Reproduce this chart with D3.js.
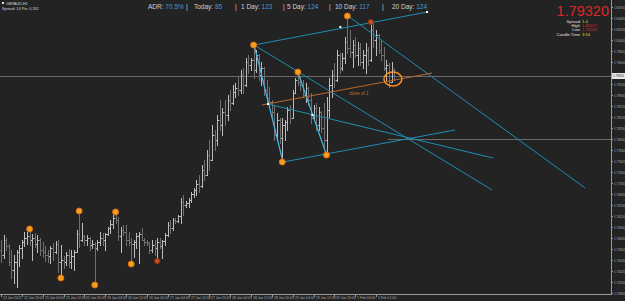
<!DOCTYPE html>
<html>
<head>
<meta charset="utf-8">
<script src="https://cdn.jsdelivr.net/npm/d3@7"></script>
<style>
html, body { margin: 0; padding: 0; background: #232323; }
svg { display: block; }
text { font-family: "Liberation Sans", Arial, sans-serif; }
</style>
</head>
<body>
<svg id="chart" width="625" height="301"></svg>
<script>
// GBPAUD H1 bars (open / high / low / close)
const opens = [1.7584,1.7574,1.7604,1.7592,1.7560,1.7544,1.7560,1.7580,1.7588,1.7600,1.7608,1.7612,1.7604,1.7608,1.7596,1.7604,1.7584,1.7580,1.7574,1.7572,
1.7588,1.7580,1.7596,1.7560,1.7564,1.7560,1.7574,1.7560,1.7572,1.7580,1.7616,1.7604,1.7612,1.7604,1.7608,1.7594,1.7596,1.7588,1.7600,1.7608,
1.7604,1.7616,1.7628,1.7636,1.7648,1.7644,1.7612,1.7624,1.7620,1.7604,1.7600,1.7596,1.7600,1.7612,1.7616,1.7604,1.7600,1.7598,1.7584,1.7594,
1.7588,1.7600,1.7592,1.7602,1.7614,1.7634,1.7628,1.7644,1.7642,1.7652,1.7680,1.7674,1.7678,1.7684,1.7696,1.7704,1.7716,1.7712,1.7744,1.7734,
1.7774,1.7764,1.7814,1.7804,1.7844,1.7834,1.7860,1.7854,1.7884,1.7878,1.7900,1.7908,1.7904,1.7934,1.7914,1.7960,1.7954,1.7964,1.7944,1.7974,
1.7934,1.7948,1.7904,1.7888,1.7880,1.7860,1.7814,1.7844,1.7808,1.7834,1.7840,1.7864,1.7848,1.7898,1.7924,1.7920,1.7914,1.7894,1.7908,1.7884,
1.7848,1.7868,1.7834,1.7860,1.7828,1.7804,1.7864,1.7914,1.7934,1.7924,1.7974,1.7948,1.7968,1.8000,1.7988,1.7980,1.7994,1.7974,1.7988,1.7960,
1.7974,1.7984,1.7964,1.8024,1.8004,1.8014,1.7984,1.7974,1.7948,1.7954,1.7920,1.7944];
const highs = [1.7604,1.7614,1.7608,1.7596,1.7584,1.7574,1.7584,1.7594,1.7604,1.7620,1.7620,1.7620,1.7616,1.7618,1.7614,1.7608,1.7600,1.7592,1.7584,1.7592,
1.7598,1.7602,1.7604,1.7594,1.7572,1.7580,1.7586,1.7584,1.7584,1.7624,1.7656,1.7638,1.7614,1.7614,1.7610,1.7604,1.7600,1.7604,1.7620,1.7618,
1.7618,1.7630,1.7644,1.7654,1.7658,1.7650,1.7630,1.7634,1.7634,1.7620,1.7608,1.7604,1.7618,1.7620,1.7628,1.7608,1.7604,1.7600,1.7604,1.7604,
1.7608,1.7608,1.7604,1.7618,1.7640,1.7644,1.7648,1.7648,1.7654,1.7688,1.7694,1.7682,1.7688,1.7700,1.7708,1.7724,1.7734,1.7754,1.7764,1.7784,
1.7804,1.7834,1.7824,1.7854,1.7884,1.7868,1.7884,1.7894,1.7904,1.7914,1.7918,1.7930,1.7944,1.7948,1.7968,1.7974,1.7968,1.7988,1.7984,1.7976,
1.7960,1.7950,1.7924,1.7910,1.7884,1.7874,1.7858,1.7848,1.7848,1.7844,1.7870,1.7874,1.7904,1.7928,1.7934,1.7930,1.7924,1.7918,1.7910,1.7898,
1.7874,1.7878,1.7870,1.7862,1.7878,1.7890,1.7928,1.7944,1.7958,1.7984,1.7978,1.7978,1.8010,1.8054,1.8024,1.8004,1.8010,1.8000,1.7998,1.7984,
1.7998,1.7990,1.8044,1.8038,1.8024,1.8016,1.8004,1.7990,1.7964,1.7958,1.7960,1.7948];
const lows = [1.7560,1.7568,1.7584,1.7554,1.7528,1.7518,1.7510,1.7552,1.7568,1.7592,1.7596,1.7594,1.7564,1.7590,1.7580,1.7574,1.7570,1.7562,1.7560,1.7558,
1.7564,1.7578,1.7540,1.7536,1.7548,1.7554,1.7550,1.7548,1.7544,1.7580,1.7590,1.7602,1.7594,1.7594,1.7584,1.7588,1.7520,1.7584,1.7594,1.7594,
1.7584,1.7614,1.7618,1.7628,1.7638,1.7604,1.7580,1.7614,1.7594,1.7594,1.7562,1.7570,1.7588,1.7558,1.7604,1.7594,1.7594,1.7578,1.7580,1.7574,
1.7568,1.7588,1.7568,1.7594,1.7612,1.7618,1.7624,1.7638,1.7640,1.7638,1.7654,1.7670,1.7670,1.7680,1.7690,1.7694,1.7700,1.7710,1.7724,1.7734,
1.7744,1.7764,1.7784,1.7794,1.7824,1.7814,1.7834,1.7844,1.7864,1.7876,1.7890,1.7894,1.7898,1.7898,1.7912,1.7938,1.7944,1.7928,1.7940,1.7924,
1.7914,1.7894,1.7878,1.7870,1.7850,1.7804,1.7804,1.7798,1.7760,1.7804,1.7824,1.7838,1.7848,1.7898,1.7914,1.7904,1.7890,1.7880,1.7874,1.7838,
1.7844,1.7824,1.7824,1.7820,1.7790,1.7774,1.7850,1.7890,1.7910,1.7922,1.7938,1.7944,1.7958,1.7978,1.7970,1.7950,1.7970,1.7954,1.7954,1.7948,
1.7938,1.7954,1.7962,1.7990,1.7974,1.7978,1.7964,1.7944,1.7924,1.7910,1.7920,1.7924];
const closes = [1.7574,1.7604,1.7592,1.7560,1.7544,1.7560,1.7580,1.7588,1.7600,1.7608,1.7612,1.7604,1.7608,1.7596,1.7604,1.7584,1.7580,1.7574,1.7572,1.7588,
1.7580,1.7596,1.7560,1.7564,1.7560,1.7574,1.7560,1.7572,1.7580,1.7616,1.7604,1.7612,1.7604,1.7608,1.7594,1.7596,1.7588,1.7600,1.7608,1.7604,
1.7616,1.7628,1.7636,1.7648,1.7644,1.7612,1.7624,1.7620,1.7604,1.7600,1.7596,1.7600,1.7612,1.7616,1.7604,1.7600,1.7598,1.7584,1.7594,1.7588,
1.7600,1.7592,1.7602,1.7614,1.7634,1.7628,1.7644,1.7642,1.7652,1.7680,1.7674,1.7678,1.7684,1.7696,1.7704,1.7716,1.7712,1.7744,1.7734,1.7774,
1.7764,1.7814,1.7804,1.7844,1.7834,1.7860,1.7854,1.7884,1.7878,1.7900,1.7908,1.7904,1.7934,1.7914,1.7960,1.7954,1.7964,1.7944,1.7974,1.7934,
1.7948,1.7904,1.7888,1.7880,1.7860,1.7814,1.7844,1.7808,1.7834,1.7840,1.7864,1.7848,1.7898,1.7924,1.7920,1.7914,1.7894,1.7908,1.7884,1.7848,
1.7868,1.7834,1.7860,1.7828,1.7804,1.7864,1.7914,1.7934,1.7924,1.7974,1.7948,1.7968,1.8000,1.7988,1.7980,1.7994,1.7974,1.7988,1.7960,1.7974,
1.7984,1.7964,1.8024,1.8004,1.8014,1.7984,1.7974,1.7948,1.7954,1.7920,1.7944,1.7932];

// axis labels
const timeLabels = ["22 Jan 2021","22 Jan 20:00","25 Jan 04:00","25 Jan 12:00","25 Jan 20:00","26 Jan 04:00","26 Jan 12:00",
  "26 Jan 20:00","27 Jan 04:00","27 Jan 12:00","27 Jan 20:00","28 Jan 04:00","28 Jan 12:00","28 Jan 20:00","29 Jan 04:00",
  "29 Jan 12:00","29 Jan 20:00","1 Feb 04:00","1 Feb 12:00"];
const priceTicks = [1.80700,1.80480,1.80260,1.80040,1.79820,1.79600,1.79380,1.79160,1.78940,1.78720,1.78500,1.78280,1.78060,
  1.77840,1.77620,1.77400,1.77180,1.76960,1.76740,1.76520,1.76300,1.76080,1.75860,1.75640,1.75420,1.75200,1.74980];
const bid = 1.79320;

// fractal / pivot markers (bar index, price)
const pivots = [
  {i: 11, p: 1.7626}, {i: 23, p: 1.7528}, {i: 30, p: 1.7662}, {i: 36, p: 1.7514},
  {i: 44, p: 1.7660}, {i: 50, p: 1.7556}, {i: 60, p: 1.7562, dark: true},
  {i: 97, p: 1.7994}, {i: 108, p: 1.7760}, {i: 114, p: 1.7940}, {i: 125, p: 1.7774},
  {i: 133, p: 1.8052}, {i: 142, p: 1.8040, dark: true}
];

// drawn objects: [i1, p1, i2, p2]
const trendLines = [
  [97.2, 1.7994, 163.6, 1.8060],   // channel top
  [108.3, 1.7760, 174.3, 1.7824],  // channel bottom
  [97.2, 1.7994, 188.6, 1.7704],
  [102.5, 1.7876, 188.9, 1.7768],
  [133.3, 1.8052, 224.3, 1.7708]
];
const zigzag = [
  [97.2, 1.7994, 108.3, 1.7760],
  [114, 1.7940, 125, 1.7774]
];
const handles = [[102.5, 1.7876], [119.6, 1.7854], [130.3, 1.8030], [163.6, 1.8060]];
const cloneLine = [100.2, 1.7874, 165.5, 1.7938];
const levelLine = 1.7806;

const W = 625, H = 301, right = 611, bottom = 294;
const svg = d3.select("#chart");

const x = d3.scaleLinear().domain([0, 144]).range([1, 376]);
const y = d3.scaleLinear().domain([1.7496, 1.8084]).range([bottom, 0]);
const px = v => Math.round(v) + 0.5;

svg.append("rect").attr("width", W).attr("height", H).attr("fill", "#232323");

const plot = svg.append("g");

// bid line
plot.append("line")
  .attr("x1", 0).attr("x2", right)
  .attr("y1", px(y(bid))).attr("y2", px(y(bid)))
  .style("stroke", "#6a6a6a");

// horizontal level
plot.append("line")
  .attr("x1", 388).attr("x2", right)
  .attr("y1", px(y(levelLine))).attr("y2", px(y(levelLine)))
  .style("stroke", "#6a6a6a");

// bars
const bars = plot.selectAll(".bar")
  .data(closes.map((c, i) => ({i, o: opens[i], h: highs[i], l: lows[i], c})))
  .enter().append("g")
  .attr("class", "bar")
  .style("stroke", d => d.c >= d.o ? "#bdbdbd" : "#6f6f6f");

bars.append("line")
  .attr("x1", d => px(x(d.i))).attr("x2", d => px(x(d.i)))
  .attr("y1", d => Math.round(y(d.h))).attr("y2", d => Math.round(y(d.l)) + 1);
bars.append("line")
  .attr("x1", d => Math.round(x(d.i)) - 1).attr("x2", d => Math.round(x(d.i)))
  .attr("y1", d => px(y(d.o))).attr("y2", d => px(y(d.o)));
bars.append("line")
  .attr("x1", d => Math.round(x(d.i)) + 1).attr("x2", d => Math.round(x(d.i)) + 2)
  .attr("y1", d => px(y(d.c))).attr("y2", d => px(y(d.c)));

// trend lines
plot.selectAll(".trend")
  .data(trendLines)
  .enter().append("line")
  .attr("class", "trend")
  .attr("x1", d => x(d[0])).attr("y1", d => y(d[1]))
  .attr("x2", d => x(d[2])).attr("y2", d => y(d[3]))
  .style("stroke", "#1f8db4").style("stroke-width", 1);

plot.selectAll(".zig")
  .data(zigzag)
  .enter().append("line")
  .attr("class", "zig")
  .attr("x1", d => x(d[0])).attr("y1", d => y(d[1]))
  .attr("x2", d => x(d[2])).attr("y2", d => y(d[3]))
  .style("stroke", "#45b8e6").style("stroke-width", 1.2);

plot.append("line")
  .attr("x1", x(cloneLine[0])).attr("y1", y(cloneLine[1]))
  .attr("x2", x(cloneLine[2])).attr("y2", y(cloneLine[3]))
  .style("stroke", "#b8692c").style("stroke-width", 1);

plot.append("text")
  .attr("x", 349).attr("y", 95)
  .text("clone of 1")
  .style("font-size", "4.5px").style("fill", "#c0702e");

plot.selectAll(".handle")
  .data(handles)
  .enter().append("rect")
  .attr("x", d => x(d[0]) - 1).attr("y", d => y(d[1]) - 1)
  .attr("width", 2).attr("height", 2)
  .style("fill", "#ffffff");

// pivot circles
plot.selectAll(".pivot")
  .data(pivots)
  .enter().append("circle")
  .attr("cx", d => x(d.i)).attr("cy", d => y(d.p))
  .attr("r", d => d.dark ? 2.6 : 3)
  .style("fill", d => d.dark ? "#c8501c" : "#f2a21e")
  .style("stroke", d => d.dark ? "#8a3410" : "#e06a10")
  .style("stroke-width", 1);

// ellipse around current price
plot.append("ellipse")
  .attr("cx", x(150.5)).attr("cy", y(1.7926))
  .attr("rx", 9).attr("ry", 7)
  .style("fill", "none").style("stroke", "#ff8a1c").style("stroke-width", 1.5);

// right axis
svg.append("line").attr("x1", right + 0.5).attr("x2", right + 0.5).attr("y1", 0).attr("y2", bottom)
  .style("stroke", "#9a9a9a");
const bidY = y(bid);
const yt = svg.selectAll(".ytick")
  .data(priceTicks.filter(t => Math.abs(y(t) - bidY) > 6))
  .enter().append("g")
  .attr("transform", t => `translate(${right},${Math.round(y(t)) + 0.5})`);
yt.append("line").attr("x1", 0).attr("x2", 2).style("stroke", "#9a9a9a");
yt.append("text").attr("x", 3).attr("y", 1.2)
  .text(t => t.toFixed(5))
  .style("font-size", "3px").style("fill", "#b0b0b0");

svg.append("rect").attr("x", right + 1).attr("y", bidY - 3).attr("width", 13).attr("height", 6).attr("fill", "#e8e8e8");
svg.append("text").attr("x", right + 2).attr("y", bidY + 1.2)
  .text(bid.toFixed(5)).style("font-size", "3px").style("fill", "#222");

// bottom axis
svg.append("line").attr("x1", 0).attr("x2", right + 1).attr("y1", bottom + 0.5).attr("y2", bottom + 0.5)
  .style("stroke", "#9a9a9a");
const xt = svg.selectAll(".xtick")
  .data(timeLabels)
  .enter().append("g")
  .attr("transform", (d, k) => `translate(${Math.round(x(k * 8)) + 0.5},${bottom})`);
xt.append("line").attr("y1", 0).attr("y2", 3).style("stroke", "#9a9a9a");
xt.append("text").attr("x", 1.5).attr("y", 5)
  .text(d => d)
  .style("font-size", "3.4px").style("fill", "#b0b0b0");

// header texts
svg.append("rect").attr("x", 2).attr("y", 2).attr("width", 2).attr("height", 2).attr("fill", "#ddd");
svg.append("text").attr("x", 6).attr("y", 4.5).text("GBPAUD,H1")
  .style("font-size", "3.8px").style("fill", "#d8d8d8");
svg.append("text").attr("x", 2).attr("y", 9.5).text("Spread: 14   Pts: 0.262")
  .style("font-size", "3.8px").style("fill", "#d8d8d8");

const adr = [
  {x: 148, label: "ADR: ", value: "70.5%"},
  {x: 194, label: "Today: ", value: "85"},
  {x: 241, label: "1 Day: ", value: "123"},
  {x: 287, label: "5 Day: ", value: "124"},
  {x: 335, label: "10 Day: ", value: "117"},
  {x: 392, label: "20 Day: ", value: "124"}
];
const adrSeps = [186, 235, 283, 329, 382];
adr.forEach(a => {
  const t = svg.append("text").attr("x", a.x).attr("y", 9).style("font-size", "6.5px");
  t.append("tspan").text(a.label).style("fill", "#d0d0d0");
  t.append("tspan").text(a.value).style("fill", "#3d9be0");
});
adrSeps.forEach(s => svg.append("text").attr("x", s).attr("y", 9).text("|")
  .style("font-size", "6.5px").style("fill", "#d0d0d0"));

svg.append("text").attr("x", 609).attr("y", 15.5).attr("text-anchor", "end")
  .text(bid.toFixed(5)).style("font-size", "14.5px").style("fill", "#d62a2a");

const info = [
  {label: "Spread", value: "1.4", color: "#e8d020", y: 23},
  {label: "High", value: "1.80617", color: "#d62a2a", y: 27.2},
  {label: "Low", value: "1.79206", color: "#d62a2a", y: 31.4},
  {label: "Candle Time", value: "3:54", color: "#e8d020", y: 35.6}
];
info.forEach(r => {
  svg.append("text").attr("x", 580).attr("y", r.y).attr("text-anchor", "end")
    .text(r.label).style("font-size", "4.2px").style("fill", "#e0e0e0");
  svg.append("text").attr("x", 582).attr("y", r.y)
    .text(r.value).style("font-size", "4.2px").style("fill", r.color);
});
</script>
</body>
</html>
